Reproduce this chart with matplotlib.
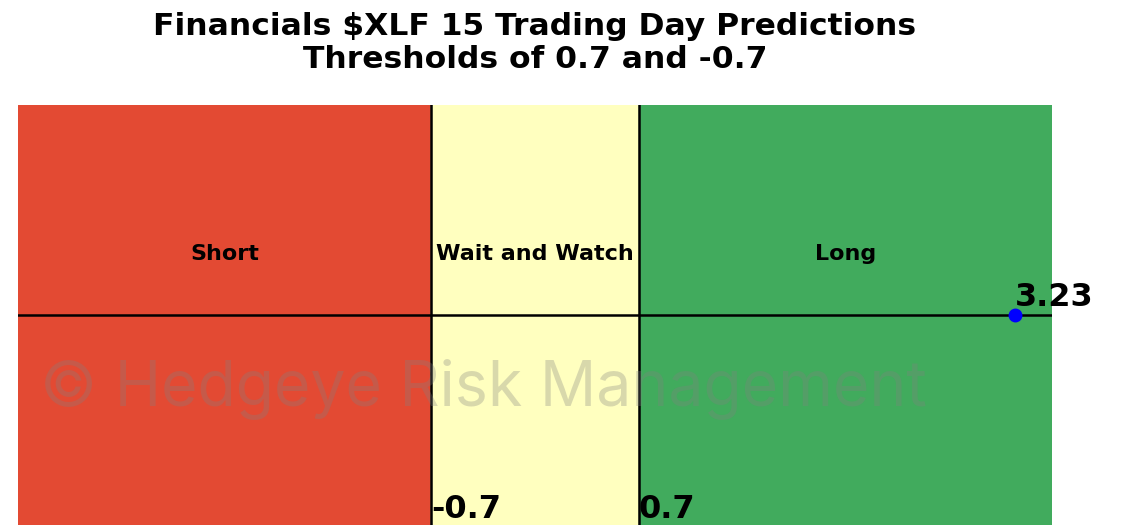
import matplotlib
matplotlib.use("Agg")
import matplotlib.pyplot as plt

# dados
lower = -0.7
upper = 0.7
value = 3.23
zones = ["Short", "Wait and Watch", "Long"]
zone_colors = ["#e34a33", "#ffffbf", "#41ab5d"]
xmin, xmax = -3.48, 3.48

fig = plt.figure(figsize=(11.23, 5.27), dpi=100)
ax = fig.add_axes([18/1123, 2/527, 1034/1123, 420/527])
ax.set_xlim(xmin, xmax)
ax.set_ylim(-1, 1)

# zonas
edges = [xmin, lower, upper, xmax]
for i in range(3):
    ax.axvspan(edges[i], edges[i+1], color=zone_colors[i], zorder=0)
    ax.text((edges[i] + edges[i+1]) / 2, 0.29, zones[i], ha="center", va="center",
            fontsize=16, fontweight="bold")

ax.axvline(lower, color="black", lw=1.8)
ax.axvline(upper, color="black", lw=1.8)
ax.axhline(0, color="black", lw=1.8)

ax.text(lower, -1.0, str(lower), ha="left", va="bottom", fontsize=23, fontweight="bold",
        clip_on=False)
ax.text(upper, -1.0, str(upper), ha="left", va="bottom", fontsize=23, fontweight="bold",
        clip_on=False)

ax.plot([value], [0], "o", color="blue", markersize=9, zorder=5)
ax.text(value, 0.01, "%.2f" % value, ha="left", va="bottom", fontsize=23,
        fontweight="bold", clip_on=False)

ax.text(-3.33, -0.35, "\u00a9 Hedgeye Risk Management", ha="left", va="center",
        fontsize=45, color="gray", alpha=0.3, family="Inter")

ax.set_axis_off()
fig.suptitle("Financials $XLF 15 Trading Day Predictions\nThresholds of 0.7 and -0.7",
             x=535/1123, y=0.978, fontsize=22.6, fontweight="bold")

fig.savefig("out.png", dpi=100)
